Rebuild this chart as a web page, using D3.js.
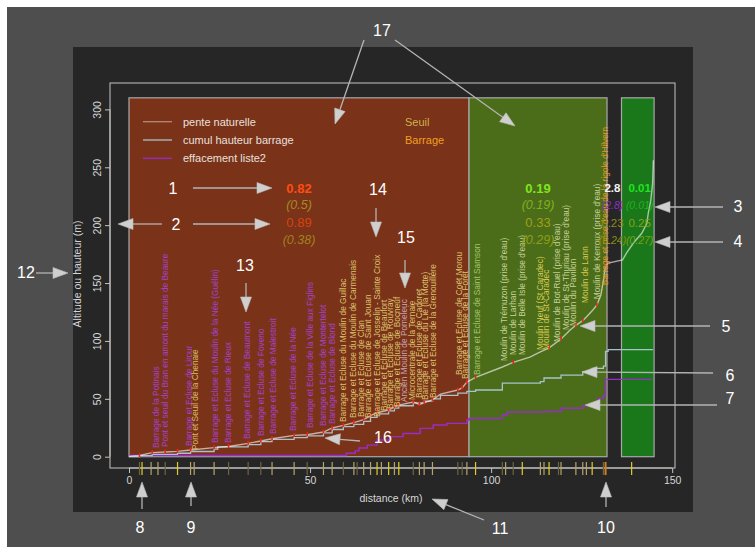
<!DOCTYPE html>
<html>
<head>
<meta charset="utf-8">
<script src="https://cdn.jsdelivr.net/npm/d3@7"></script>
<style>
  body { margin: 0; background: #ffffff; }
  svg { display: block; }
  text { font-family: "Liberation Sans", Arial, sans-serif; }
</style>
</head>
<body>
<svg id="chart" width="755" height="547"></svg>
<script>
// ---- data -------------------------------------------------------------
// river stretches (km bounds): canalised, natural, gap, upstream
const zoneBreaks = [0, 93.9, 132.0, 136.0, 145.0];
const zoneTop = 310;

// longitudinal profile: [km, altitude (m), dam present]
const profil = [
  [0, 0.5, 0], [2.9, 1, 1], [6.4, 3.5, 1], [10, 4, 1], [13.4, 4.6, 1], [17, 5.8, 1],
  [23.5, 7.8, 1], [27.5, 8.8, 1], [32.9, 11.5, 1], [36.4, 13.6, 1], [39.5, 15.5, 1],
  [45.6, 18.4, 1], [49.2, 19, 1], [53.7, 21.3, 1], [56.1, 24.8, 1], [59.2, 27, 1],
  [62.1, 29.4, 1], [64.8, 32, 1], [66.7, 35.5, 1], [68.5, 38, 1], [71.7, 40.3, 1],
  [73.3, 43, 1], [74.5, 44.5, 1], [78.5, 47.3, 1], [80.2, 45, 1], [81.5, 46.6, 1],
  [83.8, 49, 1], [86, 54, 0], [90.8, 57.6, 1], [92.0, 59.5, 1], [93.3, 64.5, 1],
  [95.7, 68.5, 1], [103.1, 77.5, 0], [106.1, 81.5, 1], [110.7, 86, 0], [113.6, 90.5, 0],
  [116, 94, 1], [119.3, 101.7, 1], [121.8, 109.4, 0], [123.4, 113.5, 1], [125.3, 117.5, 1],
  [126.3, 120.7, 0], [127.9, 126, 0], [129.2, 131, 1], [130.3, 139.7, 0], [131, 152, 0],
  [131.6, 165, 1], [132.3, 167.3, 0], [136.3, 170, 0], [137.4, 176, 0], [139.3, 184.6, 0],
  [141.6, 193, 0], [143, 201.6, 0], [143.4, 210.5, 0], [144.1, 221.7, 0], [144.6, 236.4, 0],
  [144.8, 256, 0]
];

// cumulated dam height (m), level from each km
const cumulHauteur = [
  [0, 0], [2.9, 1], [6.4, 2], [13.4, 3], [17, 4.5], [23.5, 6.5], [24.5, 8.5], [32.9, 10.5],
  [36.4, 13], [39.5, 15], [45.6, 16.5], [49.2, 18], [53.7, 20.5], [56.1, 23.5], [59.2, 26],
  [62.1, 28], [64.8, 30.5], [66.7, 34], [68.5, 37], [71.7, 39.5], [73.3, 42], [74.5, 44],
  [78.5, 46.5], [81.5, 48], [83.8, 50], [86, 53], [90.8, 55], [93.3, 56.5], [95.7, 57.6],
  [103.1, 63.6], [113.6, 64.8], [114.6, 68], [119.3, 70.5], [125.3, 73.4], [127.9, 76.3],
  [131, 78.3], [131.6, 91], [132.3, 92.5], [144.5, 93]
];

// cumulated height after removal of list 2 structures (m)
const effacementListe2 = [
  [0, 1], [60, 3], [62.5, 5], [63.5, 7.5], [65.8, 10], [68.5, 14.4], [72, 17.3], [75.7, 20],
  [80.4, 24.5], [84, 27.4], [87.8, 28.8], [93.3, 31.7], [93.9, 33], [103.1, 36], [104.5, 38.6],
  [114.6, 39], [119.3, 41.8], [125.3, 44], [127.9, 45.5], [129.5, 50.4], [131, 52.4],
  [131.6, 66.8], [144.5, 66.8]
];

// structure positions along the river (km) and their kind
const ouvragesKm = [
  2.9, 3.6, 6.1, 8.0, 10.0, 13.4, 17.0, 18.0, 23.5, 27.5, 32.9, 36.4, 39.5, 45.6, 49.2,
  53.7, 56.1, 59.2, 62.1, 63.0, 64.8, 66.7, 68.5, 69.7, 71.7, 73.3, 74.5, 78.5, 80.2, 81.5,
  83.8, 90.8, 92.0, 93.3, 95.7, 103.1, 104.0, 106.1, 108.6, 113.6, 114.6, 116.0, 118.6,
  119.3, 123.4, 125.3, 126.3, 127.9, 131.0, 131.6, 138.8
];
const ouvragesType = [
  "e", "s", "b", "b", "e", "s", "b", "b", "b", "e", "e", "e", "b", "b", "e",
  "b", "b", "e", "b", "e", "b", "b", "s", "b", "s", "b", "s", "e", "b", "b",
  "b", "e", "e", "b", "s", "e", "b", "e", "s", "b", "b", "s", "e",
  "b", "b", "b", "b", "s", "e", "r", "s"
];

// structure names: [name, km, altitude of label start, group]
const ouvragesNoms = [
  ["Barrage de la Potinais", 7.5, 7.5, "L2"],
  ["Pont et seuil du Bran en amont du marais de Beaure", 9.9, 8.4, "L2"],
  ["Barrage et Ecluse de Limur", 16.6, 9.2, "L2"],
  ["Pont et Seuil de la Chenaie", 18.2, 5.8, "S"],
  ["Barrage et Ecluse du Moulin de la Née (Guélin)", 23.7, 11.8, "L2"],
  ["Barrage et Ecluse de Rieux", 27.3, 11.8, "L2"],
  ["Barrage et Ecluse de Beaumont", 32.6, 15.3, "L2"],
  ["Barrage et Ecluse de Foveno", 36.5, 17.9, "L2"],
  ["Barrage et Ecluse de Malestroit", 39.8, 19.6, "L2"],
  ["Barrage et Ecluse de la Née", 45.3, 22.2, "L2"],
  ["Barrage et Ecluse de la Ville aux Figlins", 50.0, 24.8, "L2"],
  ["Barrage et Ecluse de Montertelot", 53.6, 26.5, "L2"],
  ["Barrage et Ecluse de Blond", 56.1, 28.2, "L2"],
  ["Barrage et Ecluse du Moulin de Guillac", 59.1, 30, "B"],
  ["Barrage et Ecluse du Moulin de Carmenais", 61.9, 33.4, "B"],
  ["Barrage et Ecluse de Clan", 64.1, 34.3, "B"],
  ["Barrage et Ecluse de Saint Jouan", 66.0, 33.4, "B"],
  ["Barrage et Ecluse de Josselin - Sainte Croix", 68.5, 34.3, "B"],
  ["Barrage et Ecluse de Beaufort", 70.4, 39.5, "B"],
  ["Barrage et Ecluse de Rouvray", 72.1, 41.2, "B"],
  ["Barrage et Ecluse de Bocneuf", 74.0, 42.9, "B"],
  ["Ancien Moulin de Pomeleuc", 75.9, 47.2, "M"],
  ["Microcentrale de la Ternaie", 78.1, 49, "B"],
  ["Barrage et Ecluse de Cadoret", 80.1, 50.7, "B"],
  ["Barrage et Ecluse du Lié (la Motte)", 81.7, 49, "B"],
  ["Barrage et Ecluse de la Grenouillère", 84.0, 50.7, "B"],
  ["Barrage et Ecluse de Coët Morou", 91.1, 70.6, "B"],
  ["Barrage et Ecluse de la Forêt", 92.8, 67.1, "B"],
  ["Barrage et Ecluse de Saint Samson", 96.1, 70.6, "N"],
  ["Moulin de Trémuzon (prise d'eau)", 103.6, 82.6, "P"],
  ["Moulin de Larhan", 106.0, 87.8, "P"],
  ["Moulin de Belle Isle (prise d'eau)", 108.5, 87.8, "P"],
  ["Moulin Neuf (St Caradec)", 113.5, 92.2, "Y"],
  ["Moulin de St-Caradec", 115.2, 92.2, "Y"],
  ["Moulin de Bot-Ruel (prise d'eau)", 118.2, 99, "P"],
  ["Moulin de St-Thuriau (prise d'eau)", 120.7, 109.4, "P"],
  ["Moulin du Pavillon", 122.6, 112.9, "P"],
  ["Moulin de Lann", 125.9, 132.8, "Y"],
  ["Moulin de Kerroux (prise d'eau)", 129.2, 136, "P"],
  ["Barrage et prise d'eau de la rigole d'Hilvern", 131.4, 148, "R"]
];

// ratios per stretch: total, (after removal), list-2, (list-2 after removal)
const ratioTotal = [0.82, 0.19, 2.8, 0.01];
const ratioTotalEff = [0.5, 0.19, 2.8, 0.01];
const ratioListe = [0.89, 0.33, 0.23, 0.25];
const ratioListeEff = [0.38, 0.29, 0.24, 0.27];
const ratioRows = [232, 217, 202, 187];

const legendLabels = ["pente naturelle", "cumul hauteur barrage", "effacement liste2"];
const typeLabels = ["Seuil", "Barrage"];

const xTicks = [0, 50, 100, 150];
const yTicks = [0, 50, 100, 150, 200, 250, 300];

// ---- drawing ----------------------------------------------------------
const svg = d3.select("#chart");
const x = d3.scaleLinear().domain([0, 150]).range([129, 672.2]);
const y = d3.scaleLinear().domain([0, 300]).range([456.7, 109.4]);

// page frames
svg.append("rect").attr("x", 7).attr("y", 7).attr("width", 748).attr("height", 540).attr("fill", "#4e4e4e");
svg.append("rect").attr("x", 73).attr("y", 47).attr("width", 620).attr("height", 465).attr("fill", "#262626");

// stretches
const zoneFill = ["#7a3219", "#4b6d1a", null, "#1a781b"];
const zones = d3.range(4).map(i => ({ a: zoneBreaks[i], b: zoneBreaks[i + 1], fill: zoneFill[i] }))
  .filter(z => z.fill);
svg.append("g").selectAll("rect").data(zones).join("rect")
  .attr("x", d => x(d.a)).attr("width", d => x(d.b) - x(d.a))
  .attr("y", y(zoneTop)).attr("height", y(0) - y(zoneTop))
  .attr("fill", d => d.fill).attr("stroke", "#a9a9a9").attr("stroke-width", 1.2);

// plot box
svg.append("rect").attr("x", 110).attr("y", 83).attr("width", 565).attr("height", 385)
  .attr("fill", "none").attr("stroke", "#c4c4c4").attr("stroke-width", 1);

// axes
const axisCol = "#c4c4c4";
const gx = svg.append("g").attr("transform", "translate(0,468)")
  .call(d3.axisBottom(x).tickValues(xTicks).tickSize(5).tickPadding(4).tickFormat(d3.format("d")));
gx.select(".domain").attr("stroke", axisCol).attr("d", `M${x(0)},0H${x(150)}`);
gx.selectAll(".tick line").attr("stroke", axisCol);
gx.selectAll(".tick text").attr("fill", "#d6d6d6").attr("font-size", 10.5)
  .attr("font-family", "Liberation Sans, Arial, sans-serif");

const gy = svg.append("g").attr("transform", "translate(110,0)")
  .call(d3.axisLeft(y).tickValues(yTicks).tickSize(5).tickFormat(d3.format("d")));
gy.select(".domain").attr("stroke", axisCol).attr("d", `M0,${y(0)}V${y(300)}`);
gy.selectAll(".tick line").attr("stroke", axisCol);
gy.selectAll(".tick text").attr("fill", "#d6d6d6").attr("font-size", 10.5)
  .attr("font-family", "Liberation Sans, Arial, sans-serif")
  .attr("x", 0).attr("dy", null)
  .attr("text-anchor", "middle").attr("dominant-baseline", "central")
  .attr("transform", "translate(-13,0) rotate(-90)");

svg.append("text").attr("x", 391).attr("y", 498).attr("text-anchor", "middle")
  .attr("dominant-baseline", "central").attr("font-size", 10.5).attr("fill", "#d6d6d6")
  .text("distance (km)");
svg.append("text").attr("transform", "translate(77,274) rotate(-90)").attr("text-anchor", "middle")
  .attr("dominant-baseline", "central").attr("font-size", 10.5).attr("fill", "#d6d6d6")
  .text("Altitude ou hauteur (m)");

// structure rug
const rugCol = { b: "#b7a466", e: "#6e6440", s: "#e2cd22", r: "#d2801e" };
svg.append("g").selectAll("line").data(ouvragesKm).join("line")
  .attr("x1", d => x(d)).attr("x2", d => x(d)).attr("y1", 462).attr("y2", 475)
  .attr("stroke", (d, i) => rugCol[ouvragesType[i]])
  .attr("stroke-width", (d, i) => ouvragesType[i] === "r" ? 2 : 1.2);

// lines
const line = d3.line().x(d => x(d[0])).y(d => y(d[1]));
const stepLine = d3.line().x(d => x(d[0])).y(d => y(d[1])).curve(d3.curveStepAfter);

svg.append("path").attr("d", stepLine(effacementListe2)).attr("fill", "none")
  .attr("stroke", "#9a2ccc").attr("stroke-width", 1.4);
svg.append("path").attr("d", stepLine(cumulHauteur)).attr("fill", "none")
  .attr("stroke", "#a8c3cc").attr("stroke-width", 1.3);
svg.append("path").attr("d", line(profil)).attr("fill", "none")
  .attr("stroke", "rgba(255,255,255,0.6)").attr("stroke-width", 1.4);

// dams on the profile
svg.append("g").selectAll("rect").data(profil.filter(d => d[2])).join("rect")
  .attr("x", d => x(d[0]) - 0.8).attr("y", d => y(d[1]) - 2.5)
  .attr("width", 1.6).attr("height", 4).attr("fill", "#e6261c");

// structure names
const nameCol = { L2: "#a842d0", S: "#d8be66", B: "#dcc46c", M: "#c9a7b2", N: "#a8c46c",
                  P: "#c9d29a", Y: "#d8cb52", R: "#e89a28" };
svg.append("g").selectAll("text").data(ouvragesNoms).join("text")
  .attr("transform", d => `translate(${x(d[1]) + 3},${y(d[2])}) rotate(-90)`)
  .attr("font-size", 8.3).attr("fill", d => nameCol[d[3]])
  .text(d => d[0]);

// ratios by stretch
const mids = d3.range(4).map(i => (zoneBreaks[i] + zoneBreaks[i + 1]) / 2);
mids[2] -= 0.5;
mids[3] += 0.5;
const rows = [
  { v: ratioTotal, fmt: v => String(v), bold: true, italic: false, size: 13,
    col: ["#ff4d12", "#80e41e", "#f4f4f4", "#1ee41e"] },
  { v: ratioTotalEff, fmt: v => `(${v})`, bold: false, italic: true, size: 12.5,
    col: ["#a8891e", "#7fb01e", "#8c30c8", "#1eb41e"] },
  { v: ratioListe, fmt: v => String(v), bold: false, italic: false, size: 13,
    col: ["#d8420f", "#a0a014", "#8c8c14", "#8ca014"] },
  { v: ratioListeEff, fmt: v => `(${v})`, bold: false, italic: true, size: 12.5,
    col: ["#a0801c", "#8ca014", "#8c8c14", "#78a014"] }
];
rows.forEach((r, ri) => {
  svg.append("g").selectAll("text").data(r.v).join("text")
    .attr("x", (d, i) => x(mids[i])).attr("y", y(ratioRows[ri]))
    .attr("text-anchor", "middle").attr("dominant-baseline", "central")
    .attr("font-size", (d, i) => i >= 2 ? (r.italic ? 10.5 : 11.5) : r.size)
    .attr("font-weight", r.bold ? "bold" : "normal")
    .attr("font-style", r.italic ? "italic" : "normal")
    .attr("fill", (d, i) => r.col[i]).text(d => r.fmt(d));
});

// legend
const legCol = ["#b98676", "#a8c3cc", "#9a2ccc"];
const leg = svg.append("g");
legendLabels.forEach((t, i) => {
  const ly = 121.7 + i * 18.3;
  leg.append("line").attr("x1", 143).attr("x2", 172).attr("y1", ly).attr("y2", ly)
    .attr("stroke", legCol[i]).attr("stroke-width", 1.3);
  leg.append("text").attr("x", 183).attr("y", ly).attr("dominant-baseline", "central")
    .attr("font-size", 11).attr("fill", "#e8e0de").text(t);
});
const typeCol = ["#cdb04a", "#f0a022"];
typeLabels.forEach((t, i) => {
  leg.append("text").attr("x", 405).attr("y", 121.7 + i * 18.3).attr("dominant-baseline", "central")
    .attr("font-size", 11).attr("fill", typeCol[i]).text(t);
});

// numbered call-outs
const callouts = [
  { t: "1", tx: 173, ty: 188, a: [[193, 188, 272, 188]] },
  { t: "2", tx: 176, ty: 224, a: [[193, 224, 270, 224], [162, 224, 118, 224]] },
  { t: "3", tx: 738, ty: 206, a: [[723, 207, 655, 207]] },
  { t: "4", tx: 738, ty: 241, a: [[723, 242, 655, 242]] },
  { t: "5", tx: 726, ty: 326, a: [[710, 326, 580, 326]] },
  { t: "6", tx: 730, ty: 375, a: [[713, 373, 582, 372]] },
  { t: "7", tx: 730, ty: 398, a: [[717, 405, 585, 405]] },
  { t: "8", tx: 140, ty: 527, a: [[142, 509, 142, 482]] },
  { t: "9", tx: 191, ty: 527, a: [[191, 506, 191, 482]] },
  { t: "10", tx: 606, ty: 527, a: [[606, 507, 606, 482]] },
  { t: "11", tx: 500, ty: 528, a: [[484, 520, 432, 499]] },
  { t: "12", tx: 26, ty: 272, a: [[36, 273, 68, 273]] },
  { t: "13", tx: 245, ty: 265, a: [[246, 283, 246, 312]] },
  { t: "14", tx: 378, ty: 189, a: [[376, 208, 376, 237]] },
  { t: "15", tx: 406, ty: 237, a: [[405, 260, 405, 288]] },
  { t: "16", tx: 383, ty: 437, a: [[360, 441, 325, 438]] },
  { t: "17", tx: 382, ty: 30, a: [[364, 40, 335, 124], [395, 40, 515, 126]] }
];
const cg = svg.append("g");
callouts.forEach(c => {
  c.a.forEach(([x1, y1, x2, y2]) => {
    const ang = Math.atan2(y2 - y1, x2 - x1);
    const L = 15, W = 5.5;
    const bx = x2 - L * Math.cos(ang), by = y2 - L * Math.sin(ang);
    cg.append("line").attr("x1", x1).attr("y1", y1).attr("x2", bx).attr("y2", by)
      .attr("stroke", "#b4b4b4").attr("stroke-width", 1.3);
    const px = -Math.sin(ang) * W, py = Math.cos(ang) * W;
    cg.append("path")
      .attr("d", `M${x2},${y2}L${bx + px},${by + py}L${bx - px},${by - py}Z`)
      .attr("fill", "#cfcfcf").attr("stroke", "#bdbdbd").attr("stroke-width", 0.6);
  });
  cg.append("text").attr("x", c.tx).attr("y", c.ty).attr("text-anchor", "middle")
    .attr("dominant-baseline", "central").attr("font-size", 16).attr("fill", "#ffffff")
    .text(c.t);
});
</script>
</body>
</html>
